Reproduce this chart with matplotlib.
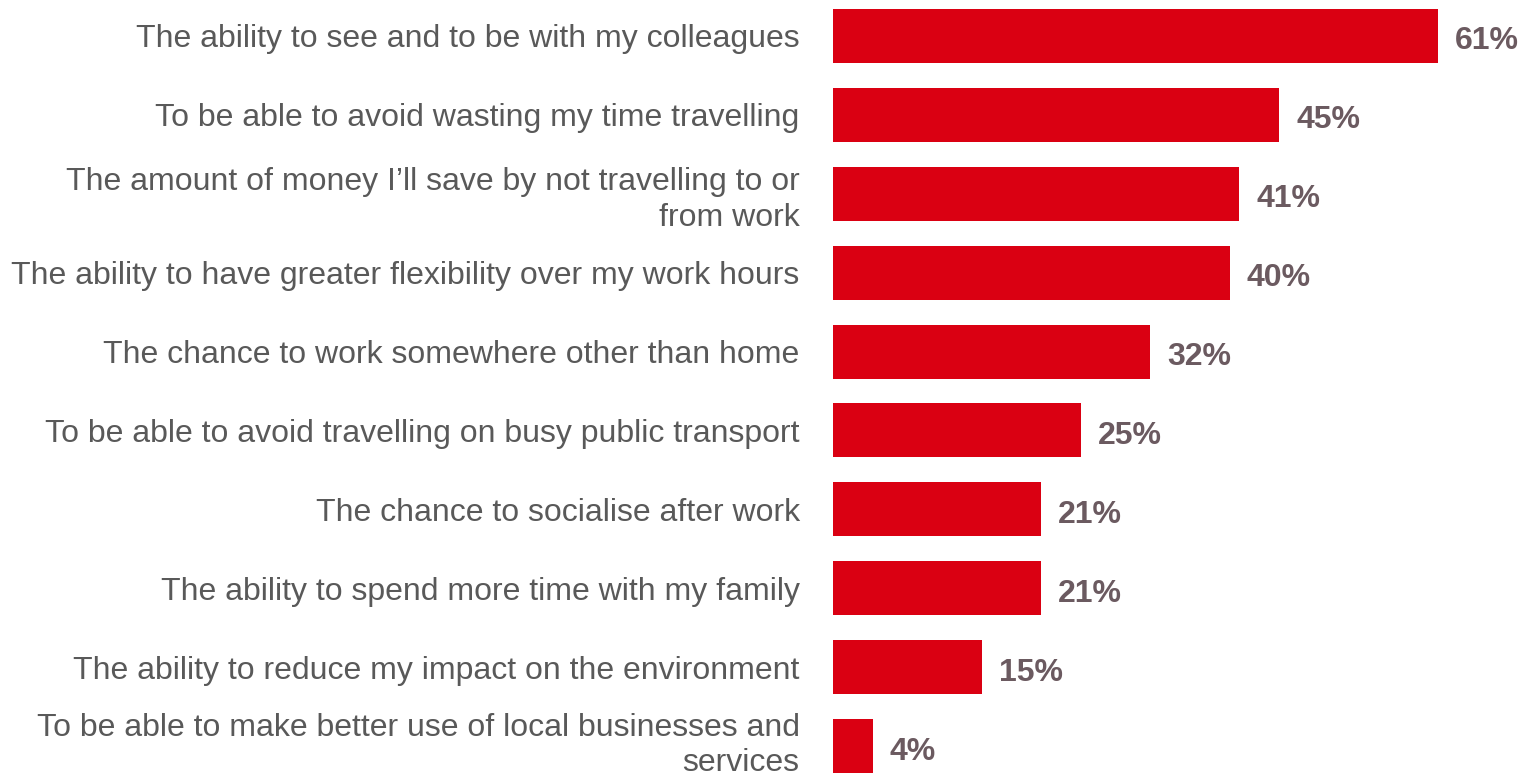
import matplotlib
matplotlib.use("Agg")
from matplotlib import pyplot as plt
from matplotlib.transforms import ScaledTranslation

# survey answers, top to bottom
reasons = [
    "The ability to see and to be with my colleagues",
    "To be able to avoid wasting my time travelling",
    "The amount of money I\u2019ll save by not travelling to or\nfrom work",
    "The ability to have greater flexibility over my work hours",
    "The chance to work somewhere other than home",
    "To be able to avoid travelling on busy public transport",
    "The chance to socialise after work",
    "The ability to spend more time with my family",
    "The ability to reduce my impact on the environment",
    "To be able to make better use of local businesses and\nservices",
]
shares = [61, 45, 41, 40, 32, 25, 21, 21, 15, 4]

BAR_RED = "#DA0012"
VALUE_COLOR = "#6B5A60"
TEXT_GREY = "#595959"

plt.rcParams["font.family"] = ["Liberation Sans", "DejaVu Sans"]

fig = plt.figure(figsize=(15.23, 7.77), dpi=100)
ax = fig.add_axes([833 / 1523, 0, 690 / 1523, 1])

ypos = list(range(len(reasons)))
ax.barh(ypos, shares, height=0.685, color=BAR_RED)

for y, v in zip(ypos, shares):
    ax.annotate(f"{v}%", (v, y), xytext=(17, -2), textcoords="offset pixels",
                ha="left", va="center_baseline", fontsize=23, fontweight="bold",
                color=VALUE_COLOR)

ax.set_xlim(0, 69.6)
ax.set_ylim(9 + 31 / 78.9, -36 / 78.9)
ax.set_yticks(ypos)
ax.set_yticklabels(reasons, fontsize=23, color=TEXT_GREY, linespacing=1.25,
                   va="center_baseline")
ax.tick_params(axis="y", length=0, pad=24)
ax.set_xticks([])
for side in ax.spines.values():
    side.set_visible(False)

# bottom label sits at the figure edge, nudge it up so it stays inside
last = ax.get_yticklabels()[-1]
last.set_transform(last.get_transform() + ScaledTranslation(0, 0.07, fig.dpi_scale_trans))

fig.savefig("out.png", dpi=100, facecolor="w")
